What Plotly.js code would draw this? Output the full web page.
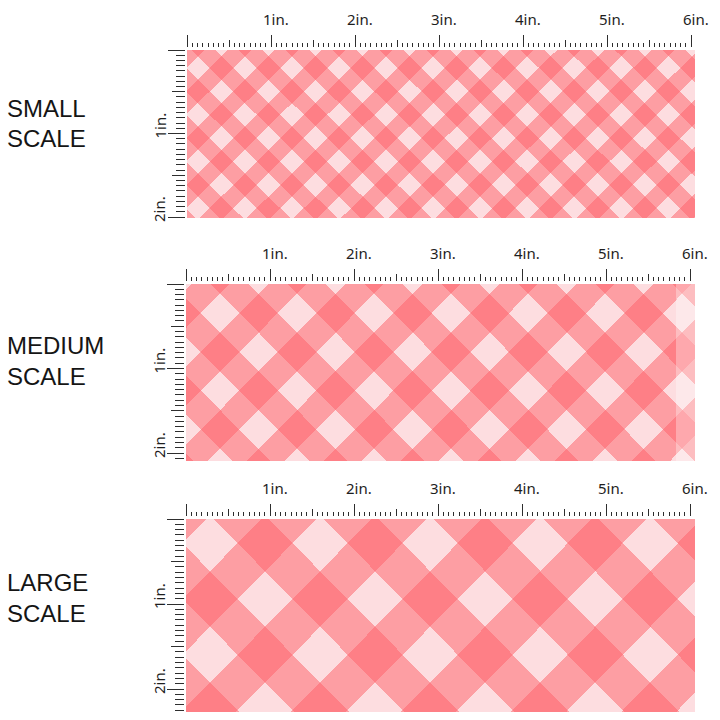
<!DOCTYPE html>
<html>
<head>
<meta charset="utf-8">
<script src="https://cdn.plot.ly/plotly-3.0.1.min.js"></script>
<style>html,body{margin:0;padding:0;background:#fff;}#chart{width:720px;height:720px;}</style>
</head>
<body>
<div id="chart"></div>
<script>
// ---- data ----
const scaleNames = ["SMALL", "MEDIUM", "LARGE"];
const scaleWord = "SCALE";
const inchLabels = ["1in.", "2in.", "3in.", "4in.", "5in.", "6in."];
const sideInchLabels = ["1in.", "2in."];
const inchValues = [1, 2, 3, 4, 5, 6];
const sideInchValues = [1, 2];
// gingham check: distance (in.) between neighbouring light squares, and one light-square centre
const checkRepeat = [0.56, 0.917, 1.31];
const checkOffsetX = [0.13, 0.405, 0.286];
const checkOffsetY = [0.215, 0.345, 0.286];
const ginghamColors = ["#fddde0", "#fd9ea3", "#fe7f86"]; // no stripe, one stripe, crossing

// ---- layout geometry (pixels) ----
const W = 720, H = 720;
const ppiX = 84;
const ppiY = [83.5, 84.5, 85];
const pLeft = [187, 186, 186], pRight = [695, 695, 695];
const pTop = [50, 284, 519], pBottom = [218, 461, 712];
const nameY = [[108, 138], [345, 376], [582, 613]];

function band(t) { const f = t - Math.floor(t); const d = Math.min(f, 1 - f); return d >= 0.25 ? 1 : 0; }

const traces = [], layout = {
  width: W, height: H, margin: {l: 0, r: 0, t: 0, b: 0},
  paper_bgcolor: "#ffffff", plot_bgcolor: "#ffffff", showlegend: false,
  annotations: [], shapes: []
};
const tickCol = "#2e2e2e";
const labFont = {family: "Noto Sans, Open Sans, sans-serif", size: 15, color: "#1e1e1e"};

for (let p = 0; p < 3; p++) {
  const n = p + 1, o = p + 4;
  const xs = n === 1 ? "" : String(n);
  const wIn = (pRight[p] - pLeft[p]) / ppiX;
  const hIn = (pBottom[p] - pTop[p]) / ppiY[p];
  const nx = Math.round(pRight[p] - pLeft[p]);
  const ny = Math.round(pBottom[p] - pTop[p]);
  const xv = [], yv = [], z = [];
  for (let i = 0; i < nx; i++) xv.push((i + 0.5) * wIn / nx);
  for (let j = 0; j < ny; j++) yv.push((j + 0.5) * hIn / ny);
  const L = checkRepeat[p];
  for (let j = 0; j < ny; j++) {
    const row = [];
    const dy = yv[j] - checkOffsetY[p];
    for (let i = 0; i < nx; i++) {
      const dx = xv[i] - checkOffsetX[p];
      row.push(band((dx + dy) / L) + band((dx - dy) / L));
    }
    z.push(row);
  }
  traces.push({
    type: "heatmap", x: xv, y: yv, z: z, zmin: 0, zmax: 2, zsmooth: false,
    colorscale: [[0, ginghamColors[0]], [0.5, ginghamColors[1]], [1, ginghamColors[2]]],
    showscale: false, hoverinfo: "skip", xaxis: "x" + xs, yaxis: "y" + xs
  });
  traces.push({type: "scatter", mode: "markers", x: [], y: [], xaxis: "x" + o, yaxis: "y" + xs, hoverinfo: "skip"});
  traces.push({type: "scatter", mode: "markers", x: [], y: [], xaxis: "x" + xs, yaxis: "y" + o, hoverinfo: "skip"});

  const xdom = [pLeft[p] / W, pRight[p] / W];
  const ydom = [1 - pBottom[p] / H, 1 - pTop[p] / H];
  const topPos = 1 - (pTop[p] - 3) / H;
  const leftPos = (pLeft[p] - 2) / W;
  const common = {showgrid: false, zeroline: false, showline: false, fixedrange: true, showticklabels: false, tickcolor: tickCol, tickwidth: 1, ticks: "outside"};
  layout["xaxis" + xs] = Object.assign({}, common, {
    domain: xdom, range: [0, wIn], side: "top", anchor: "free", position: topPos,
    tickmode: "linear", tick0: 0, dtick: 0.5, ticklen: 7,
    minor: {ticks: "outside", tick0: 0, dtick: 1 / 16, ticklen: 4, tickcolor: tickCol, tickwidth: 1, showgrid: false}
  });
  layout["xaxis" + o] = Object.assign({}, common, {
    overlaying: "x" + xs, range: [0, wIn], side: "top", anchor: "free", position: topPos,
    tickmode: "linear", tick0: 0, dtick: 1, ticklen: 12
  });
  layout["yaxis" + xs] = Object.assign({}, common, {
    domain: ydom, range: [hIn, 0], side: "left", anchor: "free", position: leftPos,
    tickmode: "linear", tick0: 0, dtick: 0.5, ticklen: 13,
    minor: {ticks: "outside", tick0: 0, dtick: 1 / 16, ticklen: 9, tickcolor: tickCol, tickwidth: 1, showgrid: false}
  });
  layout["yaxis" + o] = Object.assign({}, common, {
    overlaying: "y" + xs, range: [hIn, 0], side: "left", anchor: "free", position: leftPos,
    tickmode: "linear", tick0: 0, dtick: 1, ticklen: 17
  });

  inchValues.forEach((v, k) => {
    layout.annotations.push({
      text: inchLabels[k], x: v, xref: "x" + xs, xanchor: "center", xshift: 5,
      y: 1 - (pTop[p] - 20) / H, yref: "paper", yanchor: "bottom",
      showarrow: false, font: labFont, borderpad: 0
    });
  });
  sideInchValues.forEach((v, k) => {
    layout.annotations.push({
      text: sideInchLabels[k], y: v, yref: "y" + xs, yanchor: "center", yshift: 8,
      x: 159 / W, xref: "paper", xanchor: "center", textangle: -90,
      showarrow: false, font: labFont, borderpad: 0
    });
  });
  [scaleNames[p], scaleWord].forEach((t, k) => {
    layout.annotations.push({
      text: t, x: 6 / W, xref: "paper", xanchor: "left",
      y: 1 - nameY[p][k] / H, yref: "paper", yanchor: "middle",
      showarrow: false, font: {family: "Liberation Sans, Arial, sans-serif", size: 24, color: "#151515"}, borderpad: 0
    });
  });
}
// washed-out strip at the right end of the medium swatch
layout.shapes.push({
  type: "rect", xref: "x2", yref: "y2", x0: (676 - pLeft[1]) / ppiX, x1: (pRight[1] - pLeft[1]) / ppiX,
  y0: 0, y1: (pBottom[1] - pTop[1]) / ppiY[1], fillcolor: "rgba(255,255,255,0.32)", line: {width: 0}, layer: "above"
});

Plotly.newPlot("chart", traces, layout, {staticPlot: true, displayModeBar: false});
</script>
</body>
</html>
